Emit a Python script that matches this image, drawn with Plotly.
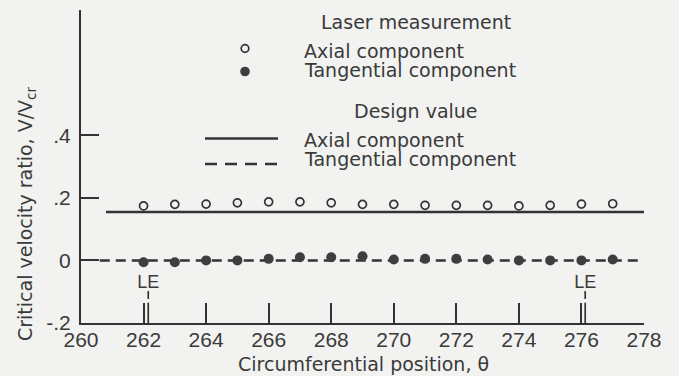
import plotly.graph_objects as go

# ---- data ----
theta = [262, 263, 264, 265, 266, 267, 268, 269, 270, 271, 272, 273, 274, 275, 276, 277]
axial_meas = [0.174, 0.179, 0.180, 0.184, 0.187, 0.187, 0.184, 0.179, 0.179, 0.176,
              0.176, 0.176, 0.174, 0.176, 0.180, 0.181]
tang_meas = [-0.006, -0.006, 0.0, 0.0, 0.005, 0.010, 0.010, 0.013, 0.003, 0.005,
             0.005, 0.003, 0.0, 0.0, 0.0, 0.003]
design_axial_x = [260.8, 278.0]
design_axial_y = [0.155, 0.155]
design_tang_x = [260.6, 277.95]
design_tang_y = [0.0, 0.0]
le_x = [262.15, 276.12]
le_label = ["LE", "LE"]
le_seg_low = [-0.2, -0.135]
le_seg_high = [-0.123, -0.098]
le_text_y = -0.073
x_ticks = [260, 262, 264, 266, 268, 270, 272, 274, 276, 278]
y_ticks = [-0.2, 0.0, 0.2, 0.4]
y_ticktext = ["-.2", "0", ".2", ".4"]

INK = "#333333"
TXT = "#3a3a3a"
BG = "#f2f2f0"
TEXTFONT = "DejaVu Sans"
TICKFONT = "Liberation Sans, Arial"

fig = go.Figure()

# design lines
fig.add_trace(go.Scatter(x=design_axial_x, y=design_axial_y, mode="lines",
                         line=dict(color=INK, width=2.5), showlegend=False, hoverinfo="skip"))
fig.add_trace(go.Scatter(x=design_tang_x, y=design_tang_y, mode="lines",
                         line=dict(color=INK, width=2.5, dash="10px,6px"),
                         showlegend=False, hoverinfo="skip"))

# measurements
fig.add_trace(go.Scatter(x=theta, y=axial_meas, mode="markers",
                         marker=dict(symbol="circle", size=8, color=BG,
                                     line=dict(color=INK, width=1.7)),
                         showlegend=False))
fig.add_trace(go.Scatter(x=theta, y=tang_meas, mode="markers",
                         marker=dict(symbol="circle", size=10, color="#3e3e3e",
                                     line=dict(color="#3e3e3e", width=0)),
                         showlegend=False))

# LE markers
lx, ly = [], []
for x in le_x:
    lx += [x, x, None, x, x, None]
    ly += [le_seg_low[0], le_seg_low[1], None, le_seg_high[0], le_seg_high[1], None]
fig.add_trace(go.Scatter(x=lx, y=ly, mode="lines", line=dict(color=INK, width=1.7),
                         showlegend=False, hoverinfo="skip"))
fig.add_trace(go.Scatter(x=le_x, y=[le_text_y] * len(le_x), mode="text", text=le_label,
                         textfont=dict(family=TICKFONT, size=18, color=TXT),
                         showlegend=False, hoverinfo="skip"))

# ---- custom legend (paper coords) ----
L, R, T, B = 81, 35, 10, 53
W, H = 679 - L - R, 376 - T - B
def px(x): return (x - L) / W
def py(y): return (376 - B - y) / H

ann = []
def text(s, x, y, anchor="left"):
    ann.append(dict(text=s, x=px(x), y=py(y), xref="paper", yref="paper",
                    xanchor=anchor, yanchor="middle", showarrow=False,
                    font=dict(family=TEXTFONT, size=19, color=TXT)))

text("Laser measurement", 416, 22, "center")
text("Axial component", 302, 51)
text("Tangential component", 302, 70)
text("Design value", 416, 111, "center")
text("Axial component", 302, 140)
text("Tangential component", 302, 159)

shapes = []
shapes.append(dict(type="circle", xref="paper", yref="paper", xsizemode="pixel", ysizemode="pixel",
                   xanchor=px(245), yanchor=py(48.5), x0=-3.8, x1=3.8, y0=-3.8, y1=3.8,
                   line=dict(color=INK, width=1.7), fillcolor=BG))
shapes.append(dict(type="circle", xref="paper", yref="paper", xsizemode="pixel", ysizemode="pixel",
                   xanchor=px(245), yanchor=py(71.5), x0=-4.8, x1=4.8, y0=-4.8, y1=4.8,
                   line=dict(color="#3e3e3e", width=0), fillcolor="#3e3e3e"))
shapes.append(dict(type="line", xref="paper", yref="paper", x0=px(205), x1=px(278),
                   y0=py(138.5), y1=py(138.5), line=dict(color=INK, width=2.5)))
shapes.append(dict(type="line", xref="paper", yref="paper", x0=px(205), x1=px(278),
                   y0=py(164), y1=py(164), line=dict(color=INK, width=2.5, dash="12px,8px")))

# axis titles
ann.append(dict(text="Critical velocity ratio, V/V<sub>cr</sub>", x=px(26), y=py(214),
                xref="paper", yref="paper", xanchor="center", yanchor="middle",
                textangle=-90, showarrow=False,
                font=dict(family=TEXTFONT, size=19, color=TXT)))
ann.append(dict(text="Circumferential position, \u03b8", x=px(364), y=py(364),
                xref="paper", yref="paper", xanchor="center", yanchor="middle",
                showarrow=False, font=dict(family=TEXTFONT, size=19, color=TXT)))

fig.update_layout(
    width=679, height=376,
    margin=dict(l=L, r=R, t=T, b=B),
    paper_bgcolor=BG, plot_bgcolor=BG,
    annotations=ann, shapes=shapes,
    showlegend=False,
    xaxis=dict(range=[260, 278], tickvals=x_ticks, ticks="inside", ticklen=20, tickwidth=1.7,
               tickcolor=INK, showline=True, linecolor=INK, linewidth=2, showgrid=False,
               zeroline=False, ticklabelstandoff=-3,
               tickfont=dict(family=TICKFONT, size=21, color=TXT)),
    yaxis=dict(range=[-0.2, 0.8], tickvals=y_ticks, ticktext=y_ticktext, ticks="inside",
               ticklen=18, tickwidth=1.7, tickcolor=INK, showline=True, linecolor=INK,
               linewidth=2, showgrid=False, zeroline=False, ticklabelstandoff=4,
               tickfont=dict(family=TICKFONT, size=21, color=TXT)),
)

fig.write_html("out.html")
